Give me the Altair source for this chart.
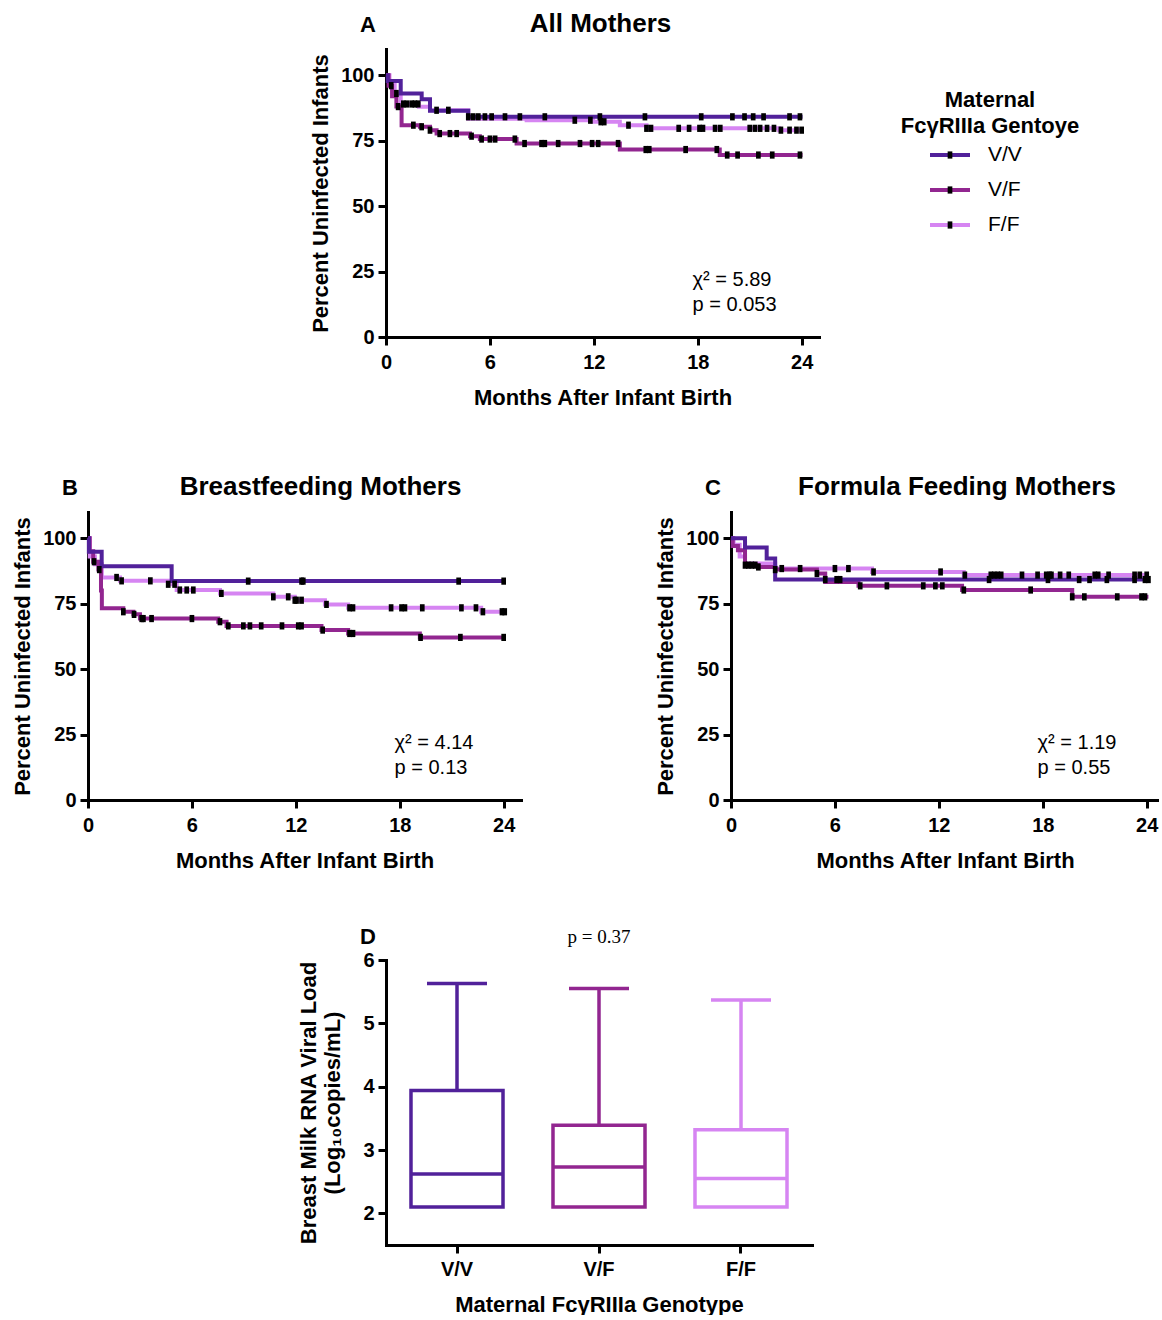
import altair as alt
import pandas as pd

# ---------------- data ----------------
GENOTYPES = ["V/V", "V/F", "F/F"]
COLORS = ["#51219A", "#922690", "#D685F2"]
DRAW_ORDER = ["F/F", "V/F", "V/V"]

X_TICKS = [0, 6, 12, 18, 24]
Y_TICKS = [0, 25, 50, 75, 100]

# Panel A (All Mothers): step change points (month, percent uninfected)
A_VV_T = [0, 0.1, 0.85, 2.06, 2.54, 4.75, 24.05]
A_VV_S = [100, 97.8, 93.0, 90.8, 86.4, 84.1, 84.1]
A_VF_T = [0, 0.15, 0.35, 0.6, 0.9, 1.96, 2.54, 2.92, 4.85, 5.42, 7.54, 13.5, 19.27, 24.05]
A_VF_S = [100, 96.0, 92.0, 88.0, 80.9, 80.3, 79.0, 77.7, 76.7, 75.6, 73.9, 71.6, 69.5, 69.5]
A_FF_T = [0, 0.2, 0.5, 0.85, 1.9, 2.54, 4.75, 8.12, 11.96, 13.5, 15.04, 22.7, 24.05]
A_FF_S = [100, 96.5, 93.0, 89.0, 87.9, 86.6, 83.4, 82.8, 82.2, 80.9, 79.7, 79.0, 79.0]
A_VV_C = [4.75, 5.04, 5.33, 5.71, 6.1, 6.87, 7.73, 9.17, 12.35, 14.95, 18.2, 20.0, 20.7, 21.2, 21.8, 23.3, 23.9]
A_VF_C = [0.3, 0.7, 1.58, 2.06, 2.54, 3.1, 3.69, 4.08, 4.94, 5.52, 6.0, 6.3, 7.44, 8.0, 8.98, 9.17,
          9.94, 11.2, 11.9, 12.25, 13.4, 15.0, 15.2, 17.3, 19.1, 19.7, 20.3, 21.5, 22.3, 23.9]
A_FF_C = [0.6, 1.0, 1.2, 1.48, 1.67, 1.86, 2.92, 3.6, 10.9, 11.8, 12.4, 12.6, 14.0, 15.04, 15.3, 16.9,
          17.5, 18.1, 18.3, 19.0, 19.3, 21.0, 21.3, 21.6, 22.0, 22.4, 22.8, 23.3, 23.7, 24.0]

# Panel B (Breastfeeding Mothers)
B_VV_T = [0, 0.05, 0.79, 4.83, 24.06]
B_VV_S = [100, 94.8, 89.3, 83.6, 83.6]
B_VF_T = [0, 0.1, 0.3, 0.6, 0.75, 0.8, 2.04, 2.62, 3.0, 7.52, 8.0, 13.48, 15.02, 19.16, 24.06]
B_VF_S = [100, 95.0, 91.0, 88.0, 80.0, 73.2, 71.9, 70.9, 69.3, 68.1, 66.5, 64.9, 63.6, 62.1, 62.1]
B_FF_T = [0, 0.1, 0.4, 0.8, 1.85, 4.63, 5.12, 7.62, 10.7, 11.94, 13.68, 15.02, 22.7, 24.06]
B_FF_S = [100, 93.0, 90.0, 85.0, 83.7, 82.4, 80.2, 78.9, 77.6, 76.3, 74.7, 73.4, 71.9, 71.9]
B_VV_C = [9.25, 12.33, 12.43, 21.4, 24.0]
B_VF_C = [0.35, 0.65, 2.04, 2.66, 3.1, 3.2, 3.67, 6.0, 7.62, 8.1, 8.97, 9.35, 10.0, 11.2, 12.14,
          12.33, 13.55, 15.1, 15.3, 19.2, 21.5, 24.0]
B_FF_C = [1.65, 1.94, 3.6, 4.63, 5.0, 5.3, 5.7, 6.08, 7.7, 10.7, 11.56, 11.94, 12.04, 12.33, 13.77,
          15.1, 15.3, 17.5, 18.1, 18.3, 19.3, 21.56, 22.4, 22.8, 23.9, 24.06]

# Panel C (Formula Feeding Mothers)
C_VV_T = [0, 0.81, 2.06, 2.55, 24.1]
C_VV_S = [100, 96.4, 92.2, 84.2, 84.2]
C_VF_T = [0, 0.1, 0.4, 0.81, 1.58, 2.55, 4.96, 5.44, 7.36, 13.34, 19.7, 24.1]
C_VF_S = [100, 97.0, 95.4, 89.7, 89.0, 88.0, 86.5, 83.3, 81.8, 80.2, 77.6, 77.6]
C_FF_T = [0, 0.15, 0.5, 0.81, 2.55, 8.14, 13.44, 24.1]
C_FF_S = [100, 97.5, 93.0, 90.3, 88.4, 87.1, 85.9, 85.9]
C_VV_C = [5.44, 6.1, 6.3, 14.9, 18.3, 20.1, 20.7, 21.7, 23.3, 23.9, 24.1]
C_VF_C = [0.81, 1.0, 1.2, 1.4, 1.58, 2.55, 4.96, 7.46, 9.0, 11.1, 11.8, 12.2, 13.44, 17.3, 19.7,
          20.4, 22.3, 23.7, 23.9]
C_FF_C = [2.93, 3.99, 6.0, 6.78, 8.23, 12.1, 13.5, 15.0, 15.2, 15.4, 15.6, 16.8, 17.7, 18.2, 18.4,
          18.5, 19.0, 19.5, 21.0, 21.2, 21.8, 23.3, 23.6, 24.0]

STATS_X = 17.7
STATS_Y = [21.8, 12.4]
A_STATS = ["χ² = 5.89", "p = 0.053"]
B_STATS = ["χ² = 4.14", "p = 0.13"]
C_STATS = ["χ² = 1.19", "p = 0.55"]

# Panel D: box plot of breast milk viral load
D_MIN = [2.1, 2.1, 2.1]
D_Q1 = [2.1, 2.1, 2.1]
D_MED = [2.62, 2.73, 2.55]
D_Q3 = [3.94, 3.39, 3.32]
D_MAX = [5.63, 5.55, 5.37]
D_TICKS = [2, 3, 4, 5, 6]

FONT = "Liberation Sans"
RECT = "M-0.65,-1L0.65,-1L0.65,1L-0.65,1Z"

color_enc = alt.Color("genotype:N", scale=alt.Scale(domain=GENOTYPES, range=COLORS), legend=None)


def step_at(times, surv, t):
    val = surv[0]
    for ti, si in zip(times, surv):
        if ti <= t:
            val = si
        else:
            break
    return val


def label_layer(text, x, y, size, weight="bold", font=FONT, align="center"):
    return alt.Chart(pd.DataFrame({"t": [text]})).mark_text(
        fontSize=size, fontWeight=weight, font=font, align=align, baseline="alphabetic",
        color="black").encode(x=alt.value(x), y=alt.value(y), text="t:N")


def km_panel(curves, censors, stats, title, letter, width, xmax, title_dx):
    rows, crows = [], []
    for g in DRAW_ORDER:
        t, s = curves[g]
        for ti, si in zip(t, s):
            rows.append({"month": ti, "pct": si, "genotype": g})
        for c in censors[g]:
            crows.append({"month": c, "pct": step_at(t, s, c), "genotype": g})
    cdf = pd.DataFrame(rows)
    kdf = pd.DataFrame(crows)
    sdf = pd.DataFrame({"month": [STATS_X, STATS_X], "pct": STATS_Y, "label": stats})

    x = alt.X("month:Q", scale=alt.Scale(domain=[0, xmax], nice=False, zero=False),
              axis=alt.Axis(values=X_TICKS, title="Months After Infant Birth", titlePadding=15,
                            labelPadding=7))
    y = alt.Y("pct:Q", scale=alt.Scale(domain=[0, 110], nice=False),
              axis=alt.Axis(values=Y_TICKS, title="Percent Uninfected Infants", titlePadding=8))

    lines = alt.Chart(cdf).mark_line(interpolate="step-after", strokeWidth=4).encode(
        x=x, y=y, color=color_enc, detail="genotype:N")
    marks = alt.Chart(kdf).mark_point(shape=RECT, filled=True, color="black", size=52, opacity=1).encode(
        x=x, y=y)
    text = alt.Chart(sdf).mark_text(align="left", baseline="middle", fontSize=20, font=FONT,
                                    color="black").encode(x=x, y=y, text="label:N")
    let = label_layer(letter, -18, -17, 22)
    ttl = label_layer(title, width / 2 + title_dx, -17, 26)
    return alt.layer(lines, marks, text, let, ttl).properties(width=width, height=288)


def spacer(w, h):
    return alt.Chart(pd.DataFrame({"v": [0]})).mark_point(opacity=0).encode(
        x=alt.value(0), y=alt.value(0)).properties(width=w, height=h)


chartA = km_panel({"V/V": (A_VV_T, A_VV_S), "V/F": (A_VF_T, A_VF_S), "F/F": (A_FF_T, A_FF_S)},
                  {"V/V": A_VV_C, "V/F": A_VF_C, "F/F": A_FF_C}, A_STATS,
                  "All Mothers", "A", 433, 25, -2)
chartB = km_panel({"V/V": (B_VV_T, B_VV_S), "V/F": (B_VF_T, B_VF_S), "F/F": (B_FF_T, B_FF_S)},
                  {"V/V": B_VV_C, "V/F": B_VF_C, "F/F": B_FF_C}, B_STATS,
                  "Breastfeeding Mothers", "B", 433, 25, 16)
chartC = km_panel({"V/V": (C_VV_T, C_VV_S), "V/F": (C_VF_T, C_VF_S), "F/F": (C_FF_T, C_FF_S)},
                  {"V/V": C_VV_C, "V/F": C_VF_C, "F/F": C_FF_C}, C_STATS,
                  "Formula Feeding Mothers", "C", 428, 24.71, 12)

# Legend panel
leg_df = pd.DataFrame({"genotype": GENOTYPES})
ly = alt.Y("genotype:N", scale=alt.Scale(type="point", domain=GENOTYPES, range=[106, 176], padding=0),
           axis=None)
leg_lines = alt.Chart(leg_df).mark_rule(strokeWidth=4).encode(
    x=alt.value(111), x2=alt.value(151), y=ly, color=color_enc)
leg_sq = alt.Chart(leg_df).mark_point(shape=RECT, filled=True, color="black", size=52, opacity=1).encode(
    x=alt.value(131), y=ly)
leg_txt = alt.Chart(leg_df).mark_text(align="left", baseline="middle", fontSize=21, font=FONT,
                                      color="black").encode(x=alt.value(169), y=ly, text="genotype:N")
leg_title = alt.Chart(pd.DataFrame({"t": [0]})).mark_text(
    text=["Maternal", "FcγRIIIa Gentoye"], fontSize=22, fontWeight="bold", font=FONT,
    align="center", baseline="top", lineHeight=26, color="black").encode(
    x=alt.value(171), y=alt.value(41))
legend = alt.layer(leg_lines, leg_sq, leg_txt, leg_title).properties(width=271, height=288)

# Panel D
d_df = pd.DataFrame({"genotype": GENOTYPES, "lo": D_MIN, "q1": D_Q1, "med": D_MED,
                     "q3": D_Q3, "hi": D_MAX})
xD = alt.X("genotype:N", scale=alt.Scale(domain=GENOTYPES, paddingInner=0.352, paddingOuter=0.176),
           axis=alt.Axis(title="Maternal FcγRIIIa  Genotype", labelAngle=0, titlePadding=15,
                         labelPadding=6))
yaxD = alt.Axis(values=D_TICKS, title=["Breast Milk RNA Viral Load", "(Log₁₀copies/mL)"],
                titlePadding=18, titleLineHeight=24)
ysc = alt.Scale(domain=[1.5, 6], nice=False, zero=False)
box = alt.Chart(d_df).mark_bar(filled=False, strokeWidth=3.5).encode(
    x=xD, y=alt.Y("q1:Q", scale=ysc, axis=yaxD), y2="q3:Q", color=color_enc)
whisk = alt.Chart(d_df).mark_rule(strokeWidth=3.5).encode(
    x=xD, y=alt.Y("q3:Q", scale=ysc, axis=yaxD), y2="hi:Q", color=color_enc)
cap = alt.Chart(d_df).mark_tick(size=60, thickness=3.5, opacity=1).encode(
    x=xD, y=alt.Y("hi:Q", scale=ysc, axis=yaxD), color=color_enc)
med = alt.Chart(d_df).mark_tick(size=92, thickness=3.5, opacity=1).encode(
    x=xD, y=alt.Y("med:Q", scale=ysc, axis=yaxD), color=color_enc)
letD = label_layer("D", -18, -16, 22)
pD = label_layer("p = 0.37", 213, -17, 19, weight="normal", font="Liberation Serif")
chartD = alt.layer(box, whisk, cap, med, letD, pD).properties(width=426, height=285)

row1 = alt.hconcat(spacer(298, 370), chartA, legend, spacing=0, bounds="flush")
row2 = alt.hconcat(chartB, chartC, spacing=210, bounds="flush")
row3 = alt.hconcat(spacer(298, 285), chartD, spacing=0, bounds="flush")

chart = alt.vconcat(row1, row2, row3, spacing=55).configure(
    font=FONT, padding={"left": 11, "top": 11, "right": 0, "bottom": 0}
).configure_view(stroke=None).configure_axis(
    domainColor="black", domainWidth=3, domainCap="square", tickColor="black", tickWidth=3,
    tickSize=8, labelFont=FONT, labelFontSize=20, labelFontWeight="bold", labelColor="black",
    labelPadding=4, labelFlush=False, labelOverlap=False, titleFont=FONT, titleFontSize=22,
    titleFontWeight="bold", titleColor="black", grid=False,
)

chart.save("out.html", embed_options={"renderer": "svg", "actions": False})
